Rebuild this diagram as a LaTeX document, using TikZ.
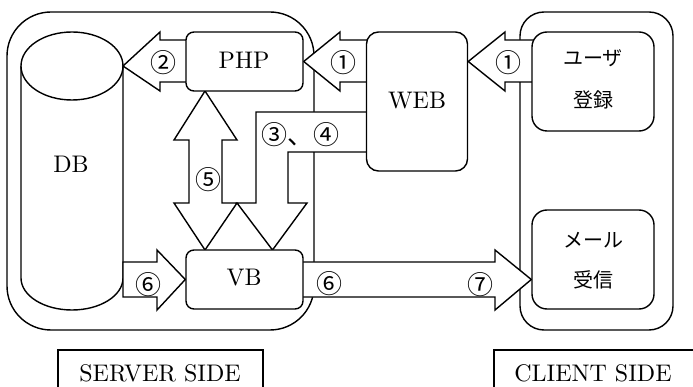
\documentclass[tikz,border=0pt]{standalone}
\usepackage{fontspec}
\newfontfamily\jp{Noto Sans CJK JP}
\newfontfamily\latf{lmroman10-regular.otf}
\pgfdeclarelayer{framelayer}
\pgfdeclarelayer{arrowlayer}
\pgfsetlayers{framelayer,arrowlayer,main}
\tikzset{
  ln/.style={draw=black, line width=1.4pt, line join=miter},
  blk/.style={ln, fill=white},
  box/.style={ln, fill=white, rounded corners=#1, inner sep=0pt},
  lat/.style={font=\latf\fontsize{24}{28}\selectfont, inner sep=0pt},
  jpt/.style={font=\jp\fontsize{20}{24}\selectfont, inner sep=0pt},
  num/.style={font=\jp\fontsize{26}{30}\selectfont, inner sep=0pt},
}
\begin{document}
\begin{tikzpicture}[x=1pt,y=-1pt]
\useasboundingbox (0,0) rectangle (693,387);
\clip (0,0) rectangle (693,387);

% boxes
\node[box=8pt, minimum width=117pt, minimum height=59pt] (php) at (244.5,61.5) {};
\node[box=12pt, minimum width=101pt, minimum height=139pt] (web) at (417,101.5) {};
\node[box=8pt, minimum width=117pt, minimum height=59pt] (vb) at (244.5,279.5) {};
\node[box=15pt, minimum width=122pt, minimum height=99pt] (user) at (593,81.5) {};
\node[box=15pt, minimum width=122pt, minimum height=99pt] (mail) at (593,259.5) {};

\node[lat] (phpT) at (244,60) {PHP};
\node[lat] (webT) at (417,101) {WEB};
\node[lat] (vbT) at (244,278) {VB};
\node[jpt] (userT1) at (593,58) {ユーザ};
\node[jpt] (userT2) at (593,100) {登録};
\node[jpt] (mailT1) at (593,240) {メール};
\node[jpt] (mailT2) at (593,280) {受信};

% frames and DB
\begin{pgfonlayer}{framelayer}
  \draw[ln, rounded corners=44pt] (7,12) rectangle (314,330);
  \draw[ln, rounded corners=24pt] (520,12) rectangle (673,330);
  \draw[ln, fill=white] (21,66) -- (21,278) arc[start angle=180, end angle=0, x radius=51, y radius=32] -- (123,66);
  \draw[ln, fill=white] (72,66) ellipse[x radius=51, y radius=34];
  \coordinate (dbE) at (123,66);
\end{pgfonlayer}
\node[lat] (dbT) at (71,164) {DB};

% block arrows
\begin{pgfonlayer}{arrowlayer}
  % 2: PHP -> DB
  \draw[blk] (195,40) -- (160,40) -- (160,32) -- (dbE) -- (160,91) -- (160,82) -- (195,82) -- cycle;
  % 1: WEB -> PHP
  \draw[blk] (375,40) -- (340,40) -- (340,32) -- (php.east) -- (340,91) -- (340,82) -- (375,82) -- cycle;
  % 1: user -> WEB
  \draw[blk] (545,40) -- (505,40) -- (505,32) -- (web.east |- php.east) -- (505,91) -- (505,82) -- (545,82) -- cycle;
  % 5: PHP <-> VB
  \draw[blk] (205,91) -- (237,140) -- (222,140) -- (222,203) -- (237,203) -- (205,250) -- (174,203) -- (189,203) -- (189,140) -- (174,140) -- cycle;
  % 3,4: WEB -> VB
  \draw[blk] (375,112) -- (256,112) -- (256,203) -- (237,203) -- (272.5,250) -- (307,203) -- (288,203) -- (288,152) -- (375,152) -- cycle;
  % 6: DB -> VB
  \draw[blk] (123,262) -- (157,262) -- (157,250) -- (vb.west) -- (157,310) -- (157,297) -- (123,297) -- cycle;
  % 6,7: VB -> mail
  \draw[blk] (295,262) -- (495,262) -- (495,250) -- (mail.west |- vb.east) -- (495,310) -- (495,297) -- (295,297) -- cycle;
\end{pgfonlayer}

% numbers
\node[num] (n2) at (163,63) {②};
\node[num] (n1a) at (343,63) {①};
\node[num] (n1b) at (508,63) {①};
\node[num] (n5) at (208,180) {⑤};
\node[num] (n34) at (300,135) {③、④};
\node[num] (n6a) at (148,285) {⑥};
\node[num] (n6b) at (329,284) {⑥};
\node[num] (n7) at (480,285) {⑦};

% side labels
\draw[ln] (58,400) -- (58,350) -- (263,350) -- (263,400);
\draw[ln] (494,400) -- (494,350) -- (700,350);
\node[lat] (srv) at (160,373) {SERVER SIDE};
\node[lat] (cli) at (593,373) {CLIENT SIDE};
\end{tikzpicture}
\end{document}
